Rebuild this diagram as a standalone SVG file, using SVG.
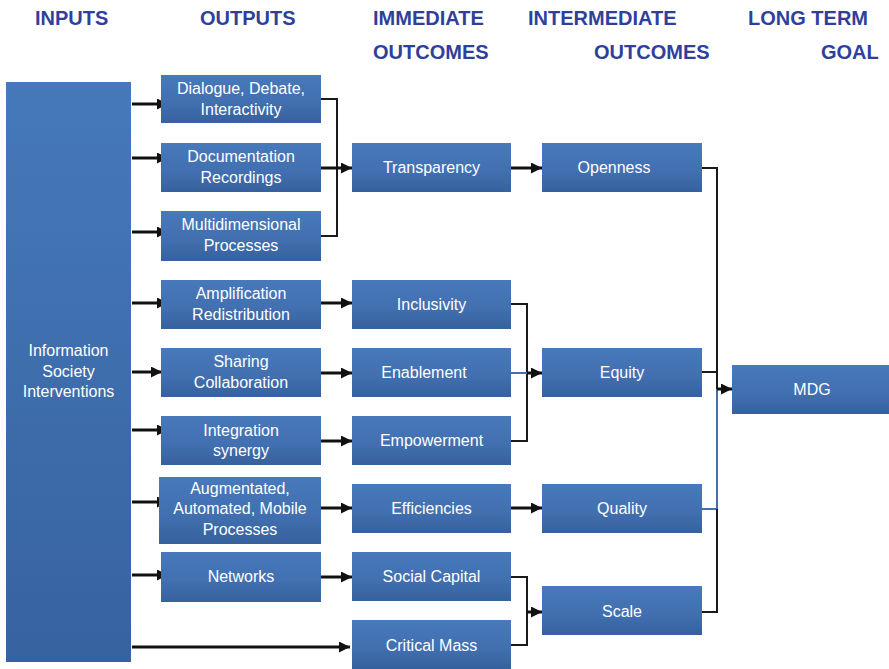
<svg xmlns="http://www.w3.org/2000/svg" width="889" height="669" viewBox="0 0 889 669">
  <defs>
    <linearGradient id="boxFill" x1="0" y1="0" x2="0" y2="1">
      <stop offset="0" stop-color="#4779bb"/>
      <stop offset="0.55" stop-color="#4270b1"/>
      <stop offset="1" stop-color="#36619d"/>
    </linearGradient>
    <linearGradient id="tallFill" x1="0" y1="0" x2="0" y2="1">
      <stop offset="0" stop-color="#4679ba"/>
      <stop offset="1" stop-color="#3762a0"/>
    </linearGradient>
    <marker id="head" markerUnits="userSpaceOnUse" markerWidth="12" markerHeight="12" refX="11" refY="5.5" orient="auto">
      <path d="M0,0 L11,5.5 L0,11 Z" fill="#111"/>
    </marker>
    <style>
      .box { fill: url(#boxFill); }
      .lbl { font-family: "Liberation Sans", Arial, sans-serif; font-size: 16px; fill: #ffffff; text-anchor: middle; }
      .hdr { font-family: "Liberation Sans", Arial, sans-serif; font-size: 20px; font-weight: bold; fill: #2f3f9c; }
      .arr { stroke: #111; stroke-width: 3; fill: none; marker-end: url(#head); }
      .join { stroke: #1a1a1a; stroke-width: 2; fill: none; }
      .blue { stroke: #4470ae; stroke-width: 2; fill: none; }
    </style>
  </defs>

  <rect width="889" height="669" fill="#ffffff"/>

  <!-- column headings -->
  <g id="headings">
    <text class="hdr" x="35" y="25">INPUTS</text>
    <text class="hdr" x="200" y="25">OUTPUTS</text>
    <text class="hdr" x="373" y="25">IMMEDIATE</text>
    <text class="hdr" x="373" y="59">OUTCOMES</text>
    <text class="hdr" x="528" y="25">INTERMEDIATE</text>
    <text class="hdr" x="594" y="59">OUTCOMES</text>
    <text class="hdr" x="748" y="25">LONG TERM</text>
    <text class="hdr" x="821" y="59">GOAL</text>
  </g>

  <!-- connectors -->
  <g id="connectors">
    <!-- inputs to outputs -->
    <line class="arr" x1="132" y1="104" x2="168" y2="104"/>
    <line class="arr" x1="132" y1="158" x2="168" y2="158"/>
    <line class="arr" x1="132" y1="232" x2="168" y2="232"/>
    <line class="arr" x1="132" y1="303" x2="168" y2="303"/>
    <line class="arr" x1="132" y1="372" x2="162" y2="372"/>
    <line class="arr" x1="132" y1="430" x2="168" y2="430"/>
    <line class="arr" x1="132" y1="502" x2="168" y2="502"/>
    <line class="arr" x1="132" y1="575" x2="168" y2="575"/>
    <line class="arr" x1="132" y1="647" x2="350" y2="647"/>

    <!-- outputs to immediate outcomes -->
    <polyline class="join" points="321,99 337,99 337,236 321,236"/>
    <line class="arr" x1="321" y1="168" x2="352" y2="168"/>
    <line class="arr" x1="321" y1="303" x2="352" y2="303"/>
    <line class="arr" x1="321" y1="373" x2="352" y2="373"/>
    <line class="arr" x1="321" y1="441" x2="352" y2="441"/>
    <line class="arr" x1="321" y1="508" x2="352" y2="508"/>
    <line class="arr" x1="321" y1="577" x2="352" y2="577"/>

    <!-- immediate to intermediate outcomes -->
    <line class="arr" x1="511" y1="168" x2="542" y2="168"/>
    <polyline class="join" points="511,304 527,304 527,441 511,441"/>
    <line class="blue" x1="511" y1="373" x2="527" y2="373"/>
    <line class="arr" x1="527" y1="373" x2="542" y2="373"/>
    <line class="arr" x1="511" y1="508" x2="542" y2="508"/>
    <polyline class="join" points="511,577 527,577 527,645 511,645"/>
    <line class="arr" x1="527" y1="612" x2="542" y2="612"/>

    <!-- intermediate outcomes to goal -->
    <polyline class="join" points="702,168 717,168 717,389"/>
    <line class="join" x1="702" y1="372" x2="717" y2="372"/>
    <polyline class="blue" points="717,389 717,509 702,509"/>
    <polyline class="join" points="717,509 717,612 702,612"/>
    <line class="arr" x1="717" y1="389" x2="732" y2="389"/>
  </g>

  <!-- inputs -->
  <g id="inputs">
    <rect x="6" y="82" width="125" height="580" fill="url(#tallFill)"/>
    <text class="lbl" x="68.5" y="356">Information</text>
    <text class="lbl" x="68.5" y="377">Society</text>
    <text class="lbl" x="68.5" y="397">Interventions</text>
  </g>

  <!-- outputs -->
  <g id="out-dialogue">
    <rect class="box" x="161" y="75" width="160" height="48"/>
    <text class="lbl" x="241" y="94">Dialogue, Debate,</text>
    <text class="lbl" x="241" y="115">Interactivity</text>
  </g>
  <g id="out-documentation">
    <rect class="box" x="161" y="143" width="160" height="49"/>
    <text class="lbl" x="241" y="162">Documentation</text>
    <text class="lbl" x="241" y="183">Recordings</text>
  </g>
  <g id="out-multidimensional">
    <rect class="box" x="161" y="211" width="160" height="50"/>
    <text class="lbl" x="241" y="230">Multidimensional</text>
    <text class="lbl" x="241" y="251">Processes</text>
  </g>
  <g id="out-amplification">
    <rect class="box" x="161" y="280" width="160" height="49"/>
    <text class="lbl" x="241" y="299">Amplification</text>
    <text class="lbl" x="241" y="320">Redistribution</text>
  </g>
  <g id="out-sharing">
    <rect class="box" x="161" y="348" width="160" height="49"/>
    <text class="lbl" x="241" y="367">Sharing</text>
    <text class="lbl" x="241" y="388">Collaboration</text>
  </g>
  <g id="out-integration">
    <rect class="box" x="161" y="416" width="160" height="49"/>
    <text class="lbl" x="241" y="436">Integration</text>
    <text class="lbl" x="241" y="456">synergy</text>
  </g>
  <g id="out-augmentated">
    <rect class="box" x="159" y="477" width="162" height="67"/>
    <text class="lbl" x="240" y="494">Augmentated,</text>
    <text class="lbl" x="240" y="514">Automated, Mobile</text>
    <text class="lbl" x="240" y="535">Processes</text>
  </g>
  <g id="out-networks">
    <rect class="box" x="161" y="552" width="160" height="50"/>
    <text class="lbl" x="241" y="582">Networks</text>
  </g>

  <!-- immediate outcomes -->
  <g id="im-transparency">
    <rect class="box" x="352" y="143" width="159" height="49"/>
    <text class="lbl" x="431.5" y="173">Transparency</text>
  </g>
  <g id="im-inclusivity">
    <rect class="box" x="352" y="280" width="159" height="49"/>
    <text class="lbl" x="431.5" y="310">Inclusivity</text>
  </g>
  <g id="im-enablement">
    <rect class="box" x="352" y="348" width="159" height="49"/>
    <text class="lbl" x="424" y="378">Enablement</text>
  </g>
  <g id="im-empowerment">
    <rect class="box" x="352" y="416" width="159" height="49"/>
    <text class="lbl" x="431.5" y="446">Empowerment</text>
  </g>
  <g id="im-efficiencies">
    <rect class="box" x="352" y="484" width="159" height="49"/>
    <text class="lbl" x="431.5" y="514">Efficiencies</text>
  </g>
  <g id="im-social-capital">
    <rect class="box" x="352" y="552" width="159" height="49"/>
    <text class="lbl" x="431.5" y="582">Social Capital</text>
  </g>
  <g id="im-critical-mass">
    <rect class="box" x="352" y="620" width="159" height="49"/>
    <text class="lbl" x="431.5" y="651">Critical Mass</text>
  </g>

  <!-- intermediate outcomes -->
  <g id="mid-openness">
    <rect class="box" x="542" y="143" width="160" height="49"/>
    <text class="lbl" x="614" y="173">Openness</text>
  </g>
  <g id="mid-equity">
    <rect class="box" x="542" y="348" width="160" height="49"/>
    <text class="lbl" x="622" y="378">Equity</text>
  </g>
  <g id="mid-quality">
    <rect class="box" x="542" y="484" width="160" height="49"/>
    <text class="lbl" x="622" y="514">Quality</text>
  </g>
  <g id="mid-scale">
    <rect class="box" x="542" y="586" width="160" height="49"/>
    <text class="lbl" x="622" y="617">Scale</text>
  </g>

  <!-- long term goal -->
  <g id="goal-mdg">
    <rect class="box" x="732" y="365" width="157" height="49"/>
    <text class="lbl" x="812" y="395">MDG</text>
  </g>
</svg>
